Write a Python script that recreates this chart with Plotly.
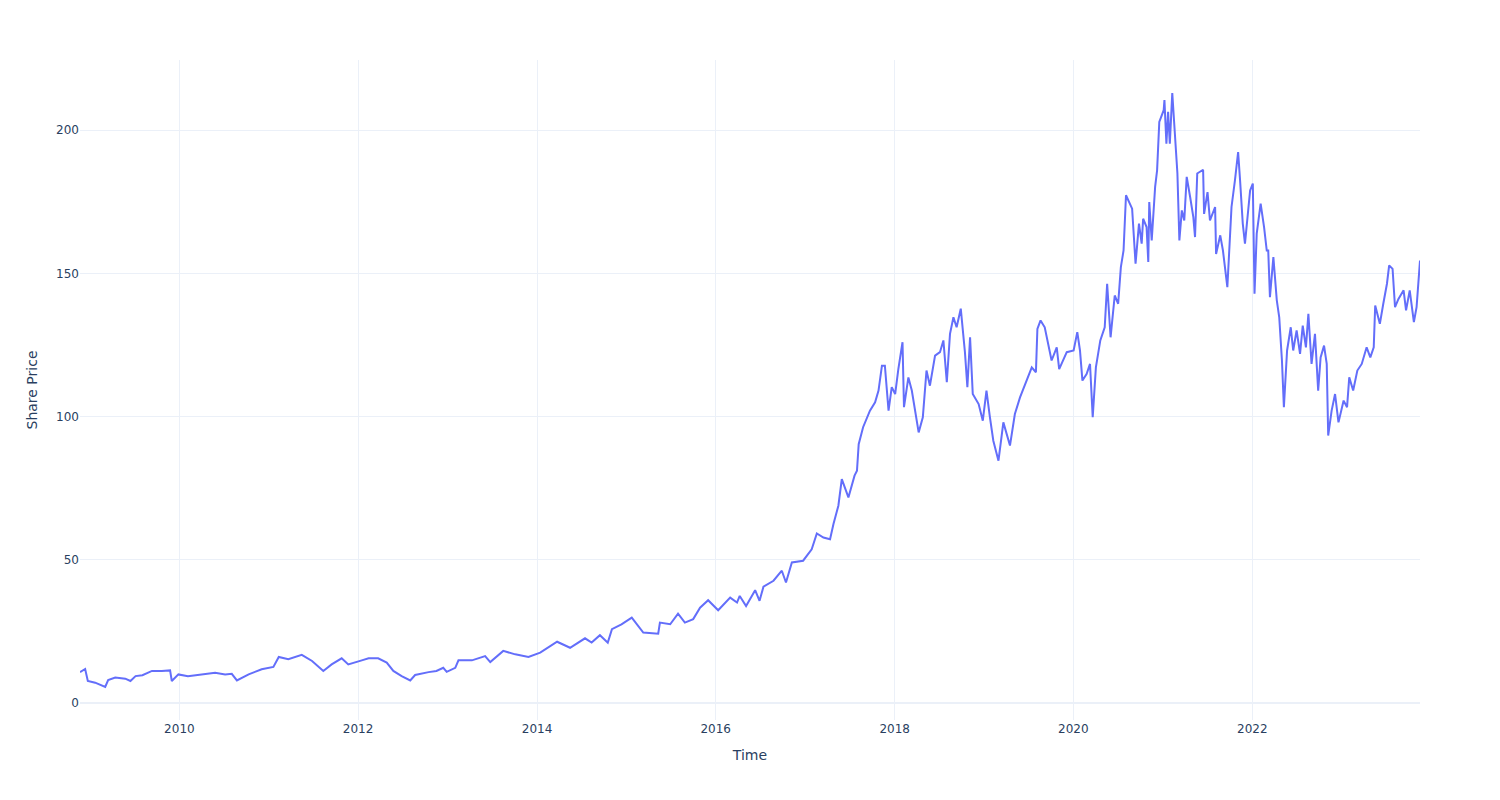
import plotly.graph_objects as go

dates = [
    "2008-11-21", "2008-12-12", "2008-12-23", "2009-01-22", "2009-03-04", "2009-03-16",
    "2009-04-14", "2009-05-25", "2009-06-15", "2009-07-06", "2009-08-03", "2009-09-11",
    "2009-10-21", "2009-11-24", "2009-12-01", "2009-12-28", "2010-02-05", "2010-04-02",
    "2010-05-27", "2010-07-07", "2010-08-03", "2010-08-24", "2010-10-11", "2010-12-03",
    "2011-01-20", "2011-02-11", "2011-03-22", "2011-05-16", "2011-06-27", "2011-08-12",
    "2011-09-15", "2011-10-26", "2011-11-22", "2012-01-16", "2012-02-13", "2012-03-23",
    "2012-04-27", "2012-05-24", "2012-06-27", "2012-08-01", "2012-08-21", "2012-10-15",
    "2012-11-16", "2012-12-14", "2012-12-28", "2013-02-01", "2013-02-14", "2013-04-10",
    "2013-06-03", "2013-06-24", "2013-08-16", "2013-10-04", "2013-11-27", "2014-01-14",
    "2014-02-14", "2014-03-24", "2014-05-16", "2014-07-16", "2014-08-12", "2014-09-15",
    "2014-10-17", "2014-11-03", "2014-12-12", "2015-01-23", "2015-03-11", "2015-05-11",
    "2015-05-18", "2015-06-29", "2015-07-31", "2015-08-28", "2015-10-01", "2015-10-29",
    "2015-12-01", "2016-01-11", "2016-02-29", "2016-03-28", "2016-04-08", "2016-05-04",
    "2016-06-10", "2016-06-28", "2016-07-14", "2016-08-24", "2016-09-27", "2016-10-14",
    "2016-11-07", "2016-12-23", "2017-01-27", "2017-02-17", "2017-03-16", "2017-04-12",
    "2017-04-26", "2017-05-16", "2017-05-30", "2017-06-26", "2017-07-21", "2017-07-31",
    "2017-08-07", "2017-08-25", "2017-09-22", "2017-10-13", "2017-10-27", "2017-11-10",
    "2017-11-22", "2017-12-07", "2017-12-20", "2018-01-03", "2018-01-16", "2018-02-02",
    "2018-02-08", "2018-02-26", "2018-03-12", "2018-04-09", "2018-04-26", "2018-05-11",
    "2018-05-25", "2018-06-15", "2018-07-05", "2018-07-19", "2018-08-02", "2018-08-15",
    "2018-08-29", "2018-09-11", "2018-09-28", "2018-10-15", "2018-10-25", "2018-11-05",
    "2018-11-16", "2018-12-10", "2018-12-27", "2019-01-11", "2019-01-25", "2019-02-08",
    "2019-03-01", "2019-03-21", "2019-04-17", "2019-05-07", "2019-05-28", "2019-06-24",
    "2019-07-15", "2019-08-01", "2019-08-07", "2019-08-20", "2019-09-06", "2019-10-04",
    "2019-10-25", "2019-11-04", "2019-12-05", "2020-01-02", "2020-01-17", "2020-01-28",
    "2020-02-07", "2020-02-24", "2020-03-09", "2020-03-20", "2020-04-02", "2020-04-20",
    "2020-05-08", "2020-05-18", "2020-06-01", "2020-06-18", "2020-07-02", "2020-07-13",
    "2020-07-24", "2020-08-03", "2020-08-17", "2020-08-28", "2020-09-11", "2020-09-25",
    "2020-10-06", "2020-10-12", "2020-10-26", "2020-11-02", "2020-11-06", "2020-11-16",
    "2020-11-30", "2020-12-08", "2020-12-17", "2021-01-04", "2021-01-07", "2021-01-15",
    "2021-01-22", "2021-01-29", "2021-02-08", "2021-02-19", "2021-03-01", "2021-03-09",
    "2021-03-19", "2021-03-29", "2021-04-08", "2021-04-22", "2021-05-05", "2021-05-12",
    "2021-05-21", "2021-06-14", "2021-06-18", "2021-07-02", "2021-07-12", "2021-08-02",
    "2021-08-06", "2021-08-23", "2021-09-03", "2021-09-21", "2021-10-08", "2021-10-22",
    "2021-11-04", "2021-11-12", "2021-11-23", "2021-12-02", "2021-12-13", "2021-12-23",
    "2022-01-03", "2022-01-10", "2022-01-19", "2022-02-04", "2022-02-18", "2022-03-01",
    "2022-03-07", "2022-03-14", "2022-03-28", "2022-04-11", "2022-04-21", "2022-05-02",
    "2022-05-10", "2022-05-23", "2022-06-07", "2022-06-17", "2022-07-01", "2022-07-15",
    "2022-07-26", "2022-08-08", "2022-08-18", "2022-08-31", "2022-09-14", "2022-09-27",
    "2022-10-07", "2022-10-21", "2022-11-01", "2022-11-07", "2022-11-21", "2022-12-05",
    "2022-12-19", "2023-01-09", "2023-01-23", "2023-02-01", "2023-02-17", "2023-03-06",
    "2023-03-24", "2023-04-13", "2023-04-28", "2023-05-12", "2023-05-18", "2023-06-06",
    "2023-06-20", "2023-07-05", "2023-07-14", "2023-07-28", "2023-08-07", "2023-08-21",
    "2023-09-11", "2023-09-21", "2023-10-06", "2023-10-23", "2023-11-03", "2023-11-17",
]

prices = [
    10.8, 11.9, 7.7, 7.1, 5.6, 8.0,
    8.9, 8.5, 7.7, 9.4, 9.7, 11.2,
    11.2, 11.4, 7.7, 10.0, 9.4, 10.0,
    10.6, 10.0, 10.2, 7.9, 10.0, 11.8,
    12.6, 16.1, 15.3, 16.8, 14.7, 11.2,
    13.5, 15.6, 13.5, 14.9, 15.6, 15.6,
    14.1, 11.2, 9.4, 7.9, 9.8, 10.8,
    11.2, 12.3, 10.9, 12.3, 14.9, 14.9,
    16.4, 14.3, 18.2, 17.0, 16.1, 17.6,
    19.3, 21.4, 19.3, 22.6, 21.1, 23.7,
    21.1, 25.8, 27.5, 29.8, 24.6, 24.2,
    28.1, 27.5, 31.2, 28.1, 29.3, 33.3,
    35.9, 32.4, 36.8, 35.1, 37.4, 33.9,
    39.4, 35.7, 40.6, 42.7, 46.2, 42.1,
    49.1, 49.7, 53.7, 59.2, 57.8, 57.2,
    62.5, 68.9, 78.2, 71.8, 79.4, 81.1,
    90.4, 96.3, 102.1, 105.0, 109.1, 117.8,
    117.8, 102.1, 110.3, 107.9, 116.6, 126.0,
    103.3, 113.7, 109.1, 94.5, 99.8, 116.1,
    110.8, 121.3, 122.5, 126.6, 112.0, 128.9,
    134.7, 131.2, 137.7, 122.5, 110.3, 127.7,
    107.9, 104.4, 98.6, 109.1, 99.8, 91.6,
    84.6, 98.0, 89.9, 100.9, 106.7, 112.6,
    117.2, 115.5, 130.6, 133.6, 131.2, 119.6,
    124.2, 116.6, 122.5, 123.1, 129.5, 123.1,
    112.6, 114.9, 118.4, 99.8, 117.2, 126.6,
    131.2, 146.4, 127.7, 142.3, 139.4, 152.2,
    158.0, 177.3, 174.9, 172.6, 153.4, 167.4,
    160.4, 169.1, 166.2, 154.0, 174.9, 161.5,
    180.2, 186.0, 202.9, 207.0, 210.5, 195.3,
    206.4, 195.3, 213.0, 196.5, 184.9, 161.5,
    172.0, 168.5, 183.7, 176.7, 169.7, 162.7,
    184.9, 186.2, 170.8, 178.4, 168.5, 173.2,
    156.8, 163.3, 158.0, 145.2, 173.2, 182.5,
    192.4, 182.5, 167.4, 160.4, 170.8, 179.0,
    181.4, 142.9, 163.9, 174.4, 166.2, 158.0,
    158.0, 141.7, 155.7, 140.6, 134.7, 119.6,
    103.3, 123.1, 131.2, 123.1, 130.1, 121.9,
    131.8, 124.2, 135.9, 118.4, 128.9, 109.1,
    120.7, 124.8, 118.4, 93.4, 102.1, 107.9,
    98.0, 105.6, 103.3, 113.7, 109.1, 116.1,
    118.4, 124.2, 120.7, 124.2, 138.8, 132.4,
    139.4, 146.4, 152.8, 151.6, 138.2, 141.1,
    144.1, 137.1, 144.1, 133.0, 138.2, 154.5,
]

fig = go.Figure()
fig.add_trace(go.Scatter(
    x=dates, y=prices, mode="lines",
    line=dict(color="#636efa", width=2),
))
fig.update_layout(
    template="plotly_white",
    width=1500, height=800,
    font=dict(family="DejaVu Sans", size=12),
    margin=dict(l=80, r=80, t=60, b=80),
    xaxis_title="Time",
    yaxis_title="Share Price",
    showlegend=False,
)
fig.write_html("out.html")
